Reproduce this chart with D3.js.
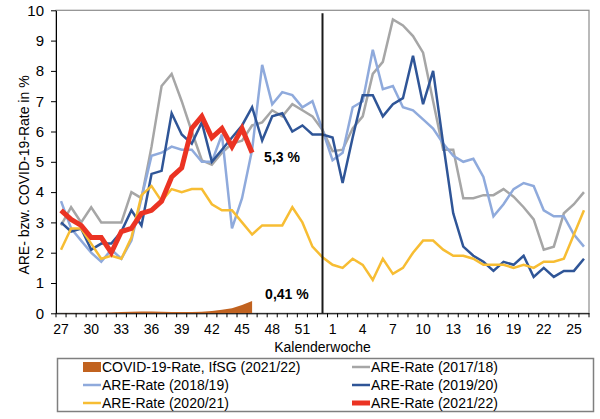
<!DOCTYPE html>
<html>
<head>
<meta charset="utf-8">
<script src="https://cdn.jsdelivr.net/npm/d3@7"></script>
<style>
  body { margin: 0; background: #fff; }
  svg { display: block; font-family: "Liberation Sans", Arial, sans-serif; }
</style>
</head>
<body>
<svg width="600" height="419"></svg>
<script>
/// Kalenderwochen einer Saison: KW 27 bis 53, danach KW 1 bis 26
var weeks = [27, 28, 29, 30, 31, 32, 33, 34, 35, 36, 37, 38, 39, 40, 41, 42, 43, 44, 45, 46,
             47, 48, 49, 50, 51, 52, 53, 1, 2, 3, 4, 5, 6, 7, 8, 9, 10, 11, 12, 13,
             14, 15, 16, 17, 18, 19, 20, 21, 22, 23, 24, 25, 26];
var tick_weeks = [27, 30, 33, 36, 39, 42, 45, 48, 51, 1, 4, 7, 10, 13, 16, 19, 22, 25];
var y_ticks = [0, 1, 2, 3, 4, 5, 6, 7, 8, 9, 10];

// ARE-Raten in % je Saison
var are_1718 = [2.9, 3.5, 3.0, 3.5, 3.0, 3.0, 3.0, 4.0, 3.8, 5.5,
                7.5, 7.9, 7.0, 6.0, 5.05, 4.9, 5.3, 5.6, 5.7, 6.2,
                6.3, 6.7, 6.5, 6.9, 6.7, 6.5, 6.05, 5.35, 5.4, 6.1,
                6.5, 7.9, 8.3, 9.7, 9.5, 9.15, 8.6, 7.0, 5.4, 5.4,
                3.8, 3.8, 3.9, 3.9, 4.1, 3.85, 3.5, 3.1, 2.1, 2.2,
                3.3, 3.6, 4.0];
var are_1819 = [3.7, 2.8, 2.4, 2.0, 1.7, 2.1, 1.8, 2.4, 3.8, 5.2,
                5.3, 5.5, 5.4, 5.4, 5.0, 5.0, 5.9, 2.8, 3.8, 5.4,
                8.2, 6.9, 7.3, 7.2, 6.8, 7.0, 6.05, 5.05, 5.3, 6.8,
                7.0, 8.7, 7.4, 7.5, 6.8, 6.7, 6.4, 6.1, 5.6, 5.2,
                5.0, 5.1, 4.5, 3.2, 3.6, 4.1, 4.3, 4.2, 3.4, 3.2,
                3.2, 2.6, 2.2];
var are_1920 = [3.0, 2.7, 2.8, 2.1, 2.3, 2.3, 2.7, 3.4, 2.9, 4.6,
                4.7, 6.6, 5.9, 5.6, 6.3, 5.0, 5.4, 5.8, 6.2, 6.8,
                5.7, 6.5, 6.6, 6.0, 6.2, 5.9, 5.9, 5.8, 4.3, 5.8,
                7.2, 7.2, 6.5, 6.9, 7.1, 8.5, 6.9, 8.0, 5.6, 3.3,
                2.2, 1.9, 1.7, 1.4, 1.7, 1.6, 1.9, 1.2, 1.5, 1.2,
                1.4, 1.4, 1.8];
var are_2021 = [2.1, 2.8, 2.8, 2.3, 1.8, 1.9, 1.8, 2.5, 3.9, 4.2,
                3.7, 4.1, 4.0, 4.1, 4.1, 3.6, 3.4, 3.4, 3.0, 2.6,
                2.9, 2.9, 2.9, 3.5, 3.0, 2.2, 1.85, 1.6, 1.5, 1.8,
                1.6, 1.1, 1.8, 1.3, 1.5, 2.0, 2.4, 2.4, 2.1, 1.9,
                1.9, 1.8, 1.6, 1.6, 1.6, 1.5, 1.6, 1.5, 1.7, 1.7,
                1.8, 2.6, 3.4];
var are_2122 = [3.4, 3.1, 2.9, 2.5, 2.5, 2.0, 2.7, 2.8, 3.3, 3.4,
                3.7, 4.5, 4.8, 6.1, 6.5, 5.8, 6.1, 5.5, 6.1, 5.3];
// COVID-19-Rate nach IfSG in %
var covid_2122 = [0.01, 0.01, 0.01, 0.01, 0.02, 0.03, 0.04, 0.05, 0.06, 0.06,
                  0.05, 0.04, 0.04, 0.04, 0.05, 0.08, 0.12, 0.17, 0.27, 0.41];

var legend_names = ["COVID-19-Rate, IfSG (2021/22)", "ARE-Rate (2017/18)",
                    "ARE-Rate (2018/19)", "ARE-Rate (2019/20)",
                    "ARE-Rate (2020/21)", "ARE-Rate (2021/22)"];
var colors = ["#c1621f", "#a6a6a6", "#8faadc", "#2f5597", "#f7bd33", "#eb3323"];
var widths = [0, 2.5, 2.5, 2.5, 2.5, 5];

var box = { left: 56, right: 589, top: 10.3, bottom: 313.3 };
var svg = d3.select("svg");

var x = d3.scaleBand().domain(weeks).range([box.left, box.right]);
var y = d3.scaleLinear().domain([0, 10]).range([box.bottom, box.top]);
var cx = function(i) { return x(weeks[i]) + x.bandwidth() / 2; };

// plot frame (grey, top and right)
svg.append("rect")
  .attr("x", box.left).attr("y", box.top)
  .attr("width", box.right - box.left).attr("height", box.bottom - box.top)
  .attr("fill", "none").attr("stroke", "#8c8c8c").attr("stroke-width", 1.2);

// COVID area
svg.append("path")
  .datum(covid_2122)
  .attr("fill", colors[0])
  .attr("d", d3.area()
    .x(function(d, i) { return cx(i); })
    .y0(y(0))
    .y1(function(d) { return y(d); }));

// ARE lines
var series = [are_1718, are_1819, are_1920, are_2021, are_2122];
var line = d3.line()
  .x(function(d, i) { return cx(i); })
  .y(function(d) { return y(d); });

svg.selectAll("path.are")
  .data(series)
  .enter()
    .append("path")
      .attr("class", "are")
      .attr("fill", "none")
      .attr("stroke", function(d, i) { return colors[i + 1]; })
      .attr("stroke-width", function(d, i) { return widths[i + 1]; })
      .attr("stroke-linejoin", "miter")
      .attr("d", line);

// year change marker at KW 53
svg.append("line")
  .attr("x1", cx(weeks.indexOf(53))).attr("x2", cx(weeks.indexOf(53)))
  .attr("y1", y(9.9)).attr("y2", y(0))
  .attr("stroke", "#1a1a1a").attr("stroke-width", 2);

// y axis
var y_axis = svg.append("g")
  .attr("transform", "translate(" + box.left + ",0)")
  .call(d3.axisLeft(y).tickValues(y_ticks).tickSize(5).tickSizeOuter(0).tickPadding(7));
y_axis.selectAll("text").attr("font-size", 15).attr("font-family", null).attr("fill", "#000");
y_axis.selectAll("line, path").attr("stroke", "#000");

// x axis, labels centered in the categories
var x_axis = svg.append("g")
  .attr("transform", "translate(0," + box.bottom + ")")
  .call(d3.axisBottom(x).tickValues(tick_weeks).tickSize(0).tickPadding(11));
x_axis.selectAll("text").attr("font-size", 14).attr("font-family", null).attr("fill", "#000");
x_axis.select(".domain").attr("stroke", "#000");

// tick marks on the category boundaries
svg.selectAll("line.xtick")
  .data(weeks.concat([null]))
  .enter()
    .append("line")
      .attr("class", "xtick")
      .attr("x1", function(d) { return d === null ? box.right : x(d); })
      .attr("x2", function(d) { return d === null ? box.right : x(d); })
      .attr("y1", box.bottom).attr("y2", box.bottom + 4)
      .attr("stroke", "#000").attr("stroke-width", 1);

// axis titles
svg.append("text")
  .attr("x", (box.left + box.right) / 2).attr("y", 352)
  .attr("text-anchor", "middle").attr("font-size", 14)
  .text("Kalenderwoche");
svg.append("text")
  .attr("transform", "translate(29,175) rotate(-90)")
  .attr("text-anchor", "middle").attr("font-size", 14)
  .text("ARE- bzw. COVID-19-Rate in %");

// end value labels
var last = are_2122.length - 1;
svg.append("text")
  .attr("x", cx(last) + 12).attr("y", y(are_2122[last]) + 9)
  .attr("font-size", 14).attr("font-weight", "bold")
  .text("5,3 %");
svg.append("text")
  .attr("x", cx(covid_2122.length - 1) + 13).attr("y", y(covid_2122[covid_2122.length - 1]) - 2)
  .attr("font-size", 14).attr("font-weight", "bold")
  .text("0,41 %");

// legend
svg.append("rect")
  .attr("x", 57.5).attr("y", 358.5).attr("width", 536).attr("height", 53)
  .attr("fill", "#fff").attr("stroke", "#7f7f7f").attr("stroke-width", 1.5);

var legend = svg.selectAll("g.legend")
  .data(legend_names)
  .enter()
    .append("g")
      .attr("class", "legend")
      .attr("transform", function(d, i) {
        return "translate(" + (i % 2 === 0 ? 83 : 352) + "," + (367 + Math.floor(i / 2) * 18) + ")";
      });

legend.each(function(d, i) {
  var g = d3.select(this);
  if (i === 0) {
    g.append("rect").attr("x", 0).attr("y", -5).attr("width", 18).attr("height", 10)
      .attr("fill", colors[0]);
  } else {
    g.append("line").attr("x1", 0).attr("x2", 18).attr("y1", 0).attr("y2", 0)
      .attr("stroke", colors[i]).attr("stroke-width", widths[i]);
  }
  g.append("text").attr("x", 19).attr("dy", "0.35em").attr("font-size", 14).text(d);
});
</script>
</body>
</html>
